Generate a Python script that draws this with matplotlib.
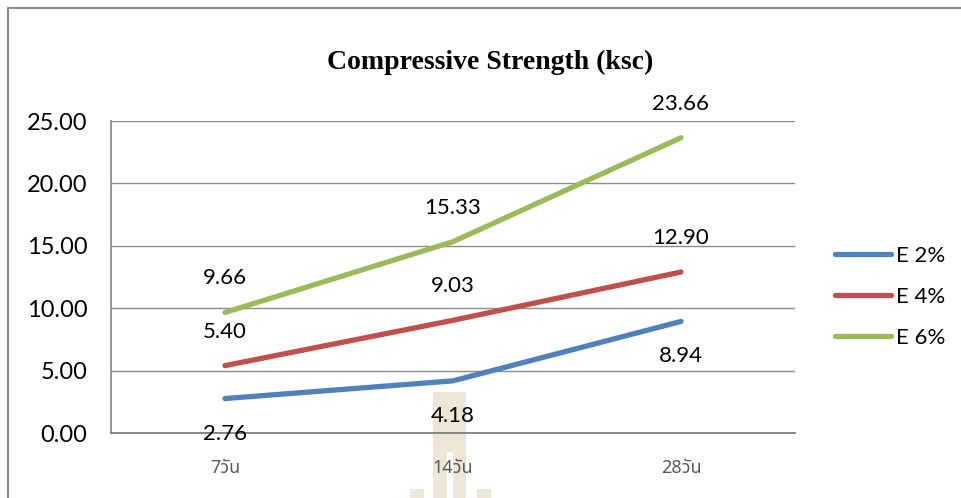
import matplotlib
matplotlib.use('Agg')
import matplotlib.pyplot as plt
from matplotlib import font_manager
from matplotlib.patches import Rectangle
from matplotlib.lines import Line2D

# data
days = ['7วัน', '14วัน', '28วัน']
e2 = [2.76, 4.18, 8.94]
e4 = [5.40, 9.03, 12.90]
e6 = [9.66, 15.33, 23.66]
names = ['E 2%', 'E 4%', 'E 6%']
colors = ['#4F81BD', '#C0504D', '#9BBB59']

# pick an installed font with Thai glyphs for the category labels
installed = {f.name for f in font_manager.fontManager.ttflist}
thai_font = 'DejaVu Sans'
for cand in ['Noto Sans Thai', 'IBM Plex Sans Thai', 'Sarabun',
             'Noto Sans Thai Looped', 'Anuphan']:
    if cand in installed:
        thai_font = cand
        break

W, H = 962, 498
fig = plt.figure(figsize=(W / 100, H / 100), dpi=100)

def fx(px):
    return px / W

def fy(py):
    return 1 - py / H

# watermark behind the plot
wm = '#EEE6D6'
for x0, x1, y0, y1 in [(433, 447, 392, H), (453, 466, 392, H), (447, 453, 392, 452),
                       (410, 424, 489, H), (477, 491, 489, H)]:
    fig.patches.append(Rectangle((fx(x0), fy(y1)), fx(x1 - x0), fy(y0) - fy(y1),
                                 transform=fig.transFigure, color=wm, lw=0, zorder=-5))

# outer frame
fig.add_artist(Line2D([fx(8), fx(8)], [fy(8), 0], color='#8C8C8C', lw=1.5))
fig.add_artist(Line2D([fx(8), 1], [fy(8), fy(8)], color='#8C8C8C', lw=1.5))

ax = fig.add_axes([fx(111), fy(433), fx(795) - fx(111), fy(121) - fy(433)])
ax.set_facecolor('none')

num_font = 'Lato'
x = range(len(days))
lines = []
for vals, nm, c, below in [(e2, names[0], colors[0], True),
                           (e4, names[1], colors[1], False),
                           (e6, names[2], colors[2], False)]:
    ln, = ax.plot(x, vals, color=c, lw=3.8, solid_capstyle='round', label=nm)
    lines.append(ln)
    for xi, v in zip(x, vals):
        ax.annotate('%.2f' % v, (xi, v), xytext=(0, -35 if below else 34),
                    textcoords='offset pixels', ha='center', va='center',
                    fontsize=16, family=num_font, color='#000000')

ax.set_xlim(-0.5, 2.5)
ax.set_ylim(0, 25)
ax.set_yticks([0, 5, 10, 15, 20, 25])
ax.set_yticklabels(['%.2f' % t for t in [0, 5, 10, 15, 20, 25]],
                   fontsize=17, family=num_font)
ax.set_xticks(list(x))
ax.set_xticklabels(days, fontsize=13, color='#595959',
                   family=[thai_font, 'DejaVu Sans'])
ax.tick_params(axis='both', length=0)
ax.tick_params(axis='y', pad=17)
ax.tick_params(axis='x', pad=19)
ax.grid(axis='y', color='#8C8C8C', lw=1.0)
ax.set_axisbelow(True)
for s in ['top', 'right']:
    ax.spines[s].set_visible(False)
ax.spines['left'].set_color('#8C8C8C')
ax.spines['bottom'].set_color('#7F7F7F')
ax.spines['left'].set_linewidth(1.3)
ax.spines['bottom'].set_linewidth(1.3)

fig.text(fx(490), fy(69), 'Compressive Strength (ksc)', ha='center', va='baseline',
         fontsize=20, fontweight='bold', family='Liberation Serif')

ax.legend(handles=lines, loc='center left', bbox_to_anchor=(fx(835), fy(297)),
          bbox_transform=fig.transFigure, frameon=False, borderpad=0,
          borderaxespad=0, handlelength=2.5, handletextpad=0.25,
          labelspacing=0.95, prop={'family': num_font, 'size': 16})

fig.savefig('out.png', dpi=100)
